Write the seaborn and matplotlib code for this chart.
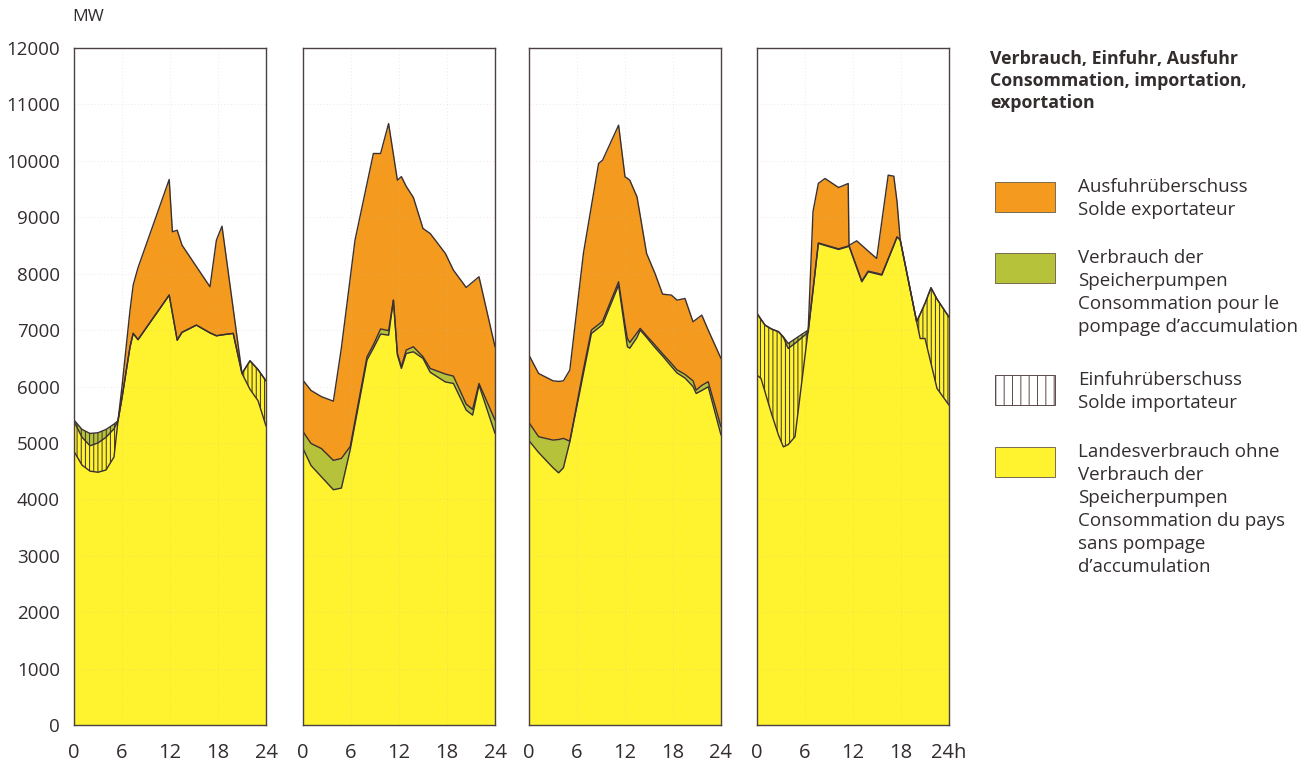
import numpy as np
import pandas as pd
import matplotlib
matplotlib.use("Agg")
import matplotlib.pyplot as plt
from matplotlib.patches import Rectangle
from matplotlib.transforms import ScaledTranslation
import seaborn as sns

# DATA (MW)
# landes = Landesverbrauch (yellow top), total = + Speicherpumpen (green top),
# supply = total + net exchange (above total -> export, below -> import)
hours_1 = [0, 1, 2, 3, 4, 5, 5.5, 6, 7, 7.4, 8, 9, 10, 11, 11.9, 12.3, 12.9, 13.5, 15.3, 17, 17.8, 18.5, 19.9, 21, 22, 23, 24]
landes_1 = [5380, 5100, 4950, 5000, 5100, 5250, 5393, 5800, 6700, 6941, 6830, 7033, 7235, 7437, 7620, 7300, 6822, 6960, 7088, 6950, 6899, 6915, 6941, 6231, 6456, 6300, 6100]
total_1 = [5405, 5239, 5168, 5180, 5239, 5333, 5393, 5800, 6700, 6941, 6830, 7033, 7235, 7437, 7620, 7300, 6822, 6960, 7088, 6950, 6899, 6915, 6941, 6231, 6456, 6300, 6100]
supply_1 = [4850, 4607, 4500, 4480, 4520, 4750, 5393, 6000, 7350, 7800, 8105, 8506, 8907, 9308, 9669, 8742, 8770, 8506, 8126, 7767, 8594, 8842, 7380, 6231, 5950, 5750, 5300]

hours_2 = [0, 1, 2.3, 3.8, 4.8, 5.9, 6.5, 8, 8.8, 9.7, 10.7, 11.3, 11.8, 12.3, 12.9, 13.8, 15, 15.9, 17.8, 18.8, 20.4, 21.2, 22, 24]
landes_2 = [4900, 4600, 4400, 4170, 4200, 4880, 5334, 6470, 6680, 6930, 6910, 7531, 6560, 6320, 6586, 6615, 6497, 6252, 6080, 6054, 5582, 5493, 6025, 5168]
total_2 = [5200, 4990, 4900, 4690, 4725, 4935, 5390, 6527, 6740, 7020, 6990, 7531, 6586, 6350, 6645, 6704, 6527, 6320, 6220, 6184, 5688, 5594, 6054, 5405]
supply_2 = [6110, 5930, 5820, 5740, 6686, 7920, 8594, 9596, 10130, 10130, 10661, 10113, 9657, 9720, 9548, 9350, 8801, 8712, 8358, 8063, 7755, 7850, 7945, 6704]

hours_3 = [0, 1.2, 3, 3.7, 4.3, 5.1, 6.8, 7.8, 8.7, 9.2, 11.2, 12, 12.3, 12.6, 13.5, 13.9, 14.7, 15.75, 16.7, 17.8, 18.5, 19.5, 20.5, 20.9, 21.6, 22.4, 24]
landes_3 = [5040, 4830, 4560, 4470, 4560, 5020, 6230, 6940, 7040, 7100, 7797, 7000, 6704, 6680, 6870, 7000, 6870, 6690, 6540, 6355, 6240, 6150, 6000, 5877, 5930, 5995, 5139]
total_3 = [5360, 5110, 5050, 5060, 5080, 5030, 6300, 7000, 7100, 7160, 7857, 7100, 6850, 6780, 6950, 7030, 6900, 6735, 6580, 6410, 6295, 6215, 6100, 5936, 6020, 6084, 5286]
supply_3 = [6556, 6231, 6101, 6090, 6100, 6291, 8358, 9200, 9953, 10012, 10632, 9717, 9690, 9657, 9362, 9030, 8358, 8004, 7637, 7620, 7531, 7560, 7147, 7190, 7265, 7000, 6497]

hours_4 = [0, 0.5, 1, 1.8, 2.7, 3.3, 3.9, 4.75, 6.4, 7.0, 7.67, 8.5, 10.2, 11.4, 11.5, 12.46, 13.1, 13.9, 14.96, 15.6, 16.4, 17.1, 17.5, 17.9, 19.96, 20.4, 21, 21.75, 22.5, 24]
landes_4 = [7295, 7190, 7088, 7020, 6970, 6870, 6674, 6765, 6960, 7700, 8535, 8500, 8429, 8480, 8488, 8109, 7856, 8033, 7996, 7974, 8255, 8500, 8650, 8600, 7147, 7285, 7473, 7750, 7549, 7230]
total_4 = [7295, 7190, 7088, 7020, 6970, 6880, 6763, 6844, 7000, 7710, 8545, 8510, 8440, 8490, 8500, 8120, 7870, 8045, 8010, 7985, 8265, 8510, 8650, 8600, 7147, 7285, 7473, 7750, 7549, 7230]
supply_4 = [6202, 6143, 5905, 5523, 5133, 4930, 4971, 5109, 7000, 9100, 9600, 9687, 9527, 9598, 8500, 8582, 8502, 8400, 8270, 8926, 9746, 9728, 9280, 8600, 7147, 6850, 6852, 6409, 5966, 5670]

x_ticks = [0, 6, 12, 18, 24]
y_ticks = list(range(0, 12001, 1000))

legend_title = "Verbrauch, Einfuhr, Ausfuhr\nConsommation, importation,\nexportation"
legend_labels = [
    "Ausfuhrüberschuss\nSolde exportateur",
    "Verbrauch der\nSpeicherpumpen\nConsommation pour le\npompage d\u2019accumulation",
    "Einfuhrüberschuss\nSolde importateur",
    "Landesverbrauch ohne\nVerbrauch der\nSpeicherpumpen\nConsommation du pays\nsans pompage\nd\u2019accumulation",
]

# STYLE
sns.set_theme(style="white")
plt.rcParams["font.family"] = ["Open Sans", "DejaVu Sans"]
plt.rcParams["hatch.linewidth"] = 0.7
plt.rcParams["hatch.color"] = "#3a3030"

YELLOW = "#fff22e"
GREEN = "#b6c33a"
ORANGE = "#f39a1f"
LINE = "#3a3030"
TEXT = "#332d2d"

fig = plt.figure(figsize=(13.16, 7.64), dpi=100)

days = [
    (hours_1, landes_1, total_1, supply_1),
    (hours_2, landes_2, total_2, supply_2),
    (hours_3, landes_3, total_3, supply_3),
    (hours_4, landes_4, total_4, supply_4),
]
lefts = [74, 303, 529, 757]
W, H = 1316, 764

for i, (hrs, lan, tot, sup) in enumerate(days):
    ax = fig.add_axes([lefts[i] / W, 1 - 725 / H, 192 / W, 677 / H])
    df = pd.DataFrame({"h": hrs, "landes": lan, "total": tot, "supply": sup})
    h = df["h"].to_numpy()
    lan_a = df["landes"].to_numpy()
    tot_a = df["total"].to_numpy()
    sup_a = df["supply"].to_numpy()

    ax.fill_between(h, 0, lan_a, color=YELLOW, lw=0, zorder=1)
    ax.fill_between(h, lan_a, tot_a, color=GREEN, lw=0, zorder=1)
    ax.fill_between(h, tot_a, sup_a, where=sup_a >= tot_a, interpolate=True,
                    color=ORANGE, lw=0, zorder=1)
    ax.fill_between(h, sup_a, tot_a, where=sup_a <= tot_a, interpolate=True,
                    facecolor="none", edgecolor=LINE, hatch="||||", lw=0, zorder=2)

    long = df.melt(id_vars="h", var_name="curve", value_name="mw")
    sns.lineplot(data=long, x="h", y="mw", units="curve", estimator=None,
                 color=LINE, lw=1.0, ax=ax, zorder=3, legend=False)

    ax.set_xlim(0, 24)
    ax.set_ylim(0, 12000)
    ax.set_xlabel("")
    ax.set_ylabel("")
    ax.set_xticks(x_ticks)
    labels = [str(t) for t in x_ticks]
    if i == 3:
        labels[-1] = "24h"
    ax.set_xticklabels(labels, fontsize=14.5, color=TEXT)
    ax.set_yticks(y_ticks)
    if i == 0:
        ax.set_yticklabels([str(t) for t in y_ticks], fontsize=13.5, color=TEXT)
        for lab in ax.get_yticklabels():
            lab.set_transform(lab.get_transform() + ScaledTranslation(0, -5 / 72, fig.dpi_scale_trans))
    else:
        ax.set_yticklabels([])
    ax.tick_params(axis="x", length=0, pad=13)
    ax.tick_params(axis="y", length=0, pad=10)

    ax.set_axisbelow("line")
    ax.grid(True, color="#c8c0a0", linestyle=(0, (1, 3)), lw=0.6, alpha=0.45)
    for sp in ax.spines.values():
        sp.set_color("#4a4040")
        sp.set_linewidth(1.0)
        sp.set_zorder(4)

fig.text(88 / W, 1 - 17 / H, "MW", fontsize=12.5, color=TEXT, ha="center", va="center")

# LEGEND
fig.text(990 / W, 1 - 50 / H, legend_title, fontsize=12.8, fontweight="bold",
         color=TEXT, va="top", ha="left", linespacing=1.29)

swatch_tops = [182, 253, 375, 447]
for k, (top, lab) in enumerate(zip(swatch_tops, legend_labels)):
    if k == 2:
        rect = Rectangle((995 / W, 1 - (top + 30) / H), 60 / W, 30 / H,
                         transform=fig.transFigure, facecolor="white",
                         edgecolor="#5a4a4a", hatch="||", lw=0.7)
    else:
        fc = [ORANGE, GREEN, None, YELLOW][k]
        rect = Rectangle((995 / W, 1 - (top + 30) / H), 60 / W, 30 / H,
                         transform=fig.transFigure, facecolor=fc,
                         edgecolor="#7a6a50", lw=0.7)
    fig.patches.append(rect)
    fig.text(1078 / W, 1 - (top - 4) / H, lab, fontsize=13.5, color=TEXT,
             va="top", ha="left", linespacing=1.355)

fig.savefig("out.png", dpi=100)
